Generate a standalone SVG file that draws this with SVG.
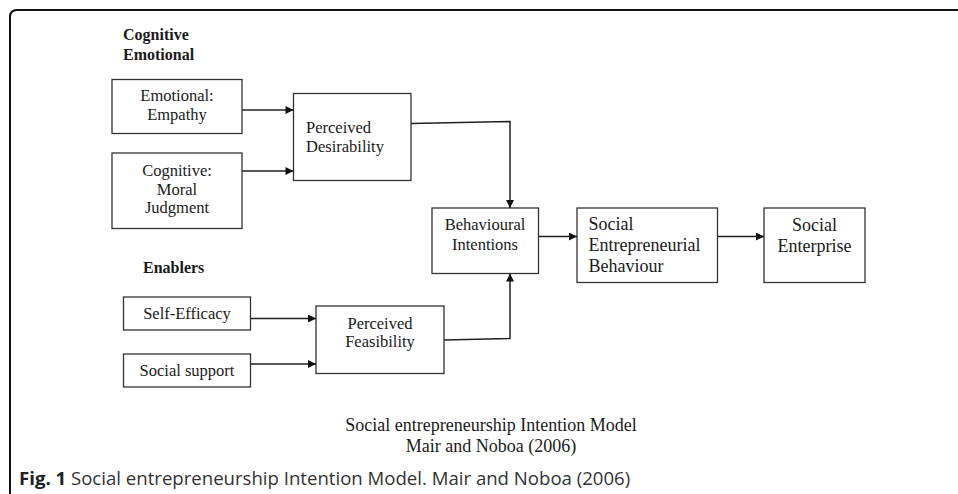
<svg xmlns="http://www.w3.org/2000/svg" width="958" height="494" viewBox="0 0 958 494">
<defs>
<style>
.box{fill:#fff;stroke:#333;stroke-width:1.3}
.t{font-family:"Liberation Serif","Times New Roman",serif;font-size:16.5px;fill:#1a1a1a}
.tl{font-family:"Liberation Serif","Times New Roman",serif;font-size:18px;fill:#1a1a1a}
.c{text-anchor:middle}
.h{font-family:"Liberation Serif","Times New Roman",serif;font-size:16px;font-weight:bold;fill:#1a1a1a}
.conn{fill:none;stroke:#222;stroke-width:1.5}
.cap{font-family:"Open Sans","Noto Sans",sans-serif;font-size:18.6px;fill:#333}
</style>
<marker id="ah" viewBox="0 0 10 10" refX="10" refY="5" markerWidth="9" markerHeight="8" markerUnits="userSpaceOnUse" orient="auto"><path d="M0,0 L10,5 L0,10 z" fill="#111"/></marker>
</defs>
<rect width="958" height="494" fill="#fff"/>
<path d="M10,494 V17 Q10,10 17,10 H958" fill="none" stroke="#111" stroke-width="2"/>

<g id="headers">
<text class="h" x="123" y="40">Cognitive</text>
<text class="h" x="123" y="60">Emotional</text>
<text class="h" x="143" y="273">Enablers</text>
</g>

<g id="empathy">
<rect class="box" x="112" y="79.5" width="130" height="54"/>
<text class="t c" x="177" y="101">Emotional:</text>
<text class="t c" x="177" y="120">Empathy</text>
</g>

<g id="moral">
<rect class="box" x="112" y="153" width="130" height="75.5"/>
<text class="t c" x="177" y="176">Cognitive:</text>
<text class="t c" x="177" y="195">Moral</text>
<text class="t c" x="177" y="213">Judgment</text>
</g>

<g id="desirability">
<rect class="box" x="293.5" y="93.5" width="117.5" height="87"/>
<text class="t" x="306" y="133">Perceived</text>
<text class="t" x="306" y="152">Desirability</text>
</g>

<g id="selfefficacy">
<rect class="box" x="123.5" y="297" width="127" height="33"/>
<text class="t c" x="187" y="318.5">Self-Efficacy</text>
</g>

<g id="socialsupport">
<rect class="box" x="123.5" y="354" width="127" height="33"/>
<text class="t c" x="187" y="376">Social support</text>
</g>

<g id="feasibility">
<rect class="box" x="316" y="306" width="128" height="67.5"/>
<text class="t c" x="380" y="328.5">Perceived</text>
<text class="t c" x="380" y="347">Feasibility</text>
</g>

<g id="intentions">
<rect class="box" x="432" y="208" width="106.5" height="65.5"/>
<text class="t c" x="485" y="230">Behavioural</text>
<text class="t c" x="485" y="250">Intentions</text>
</g>

<g id="behaviour">
<rect class="box" x="577" y="208" width="140.5" height="74.5"/>
<text class="tl" x="588.5" y="230">Social</text>
<text class="tl" x="588.5" y="251">Entrepreneurial</text>
<text class="tl" x="588.5" y="271.5">Behaviour</text>
</g>

<g id="enterprise">
<rect class="box" x="764" y="208" width="101" height="74.5"/>
<text class="tl c" x="814.5" y="230.5">Social</text>
<text class="tl c" x="814.5" y="252">Enterprise</text>
</g>

<g id="connectors">
<line class="conn" x1="242" y1="110" x2="293.5" y2="110" marker-end="url(#ah)"/>
<line class="conn" x1="242" y1="171" x2="293.5" y2="171" marker-end="url(#ah)"/>
<polyline class="conn" points="411,123.5 510,121.5 510,208" marker-end="url(#ah)"/>
<line class="conn" x1="250.5" y1="318.5" x2="316" y2="318.5" marker-end="url(#ah)"/>
<line class="conn" x1="250.5" y1="364" x2="316" y2="364" marker-end="url(#ah)"/>
<polyline class="conn" points="444,340 510,338.5 510,273.5" marker-end="url(#ah)"/>
<line class="conn" x1="538.5" y1="236.5" x2="577" y2="236.5" marker-end="url(#ah)"/>
<line class="conn" x1="717.5" y1="236.5" x2="764" y2="236.5" marker-end="url(#ah)"/>
</g>

<g id="caption">
<text class="tl c" x="491" y="431">Social entrepreneurship Intention Model</text>
<text class="tl c" x="491" y="452">Mair and Noboa (2006)</text>
</g>

<text class="cap" x="19" y="485"><tspan font-weight="bold" fill="#222">Fig. 1</tspan> Social entrepreneurship Intention Model. Mair and Noboa (2006)</text>
</svg>
